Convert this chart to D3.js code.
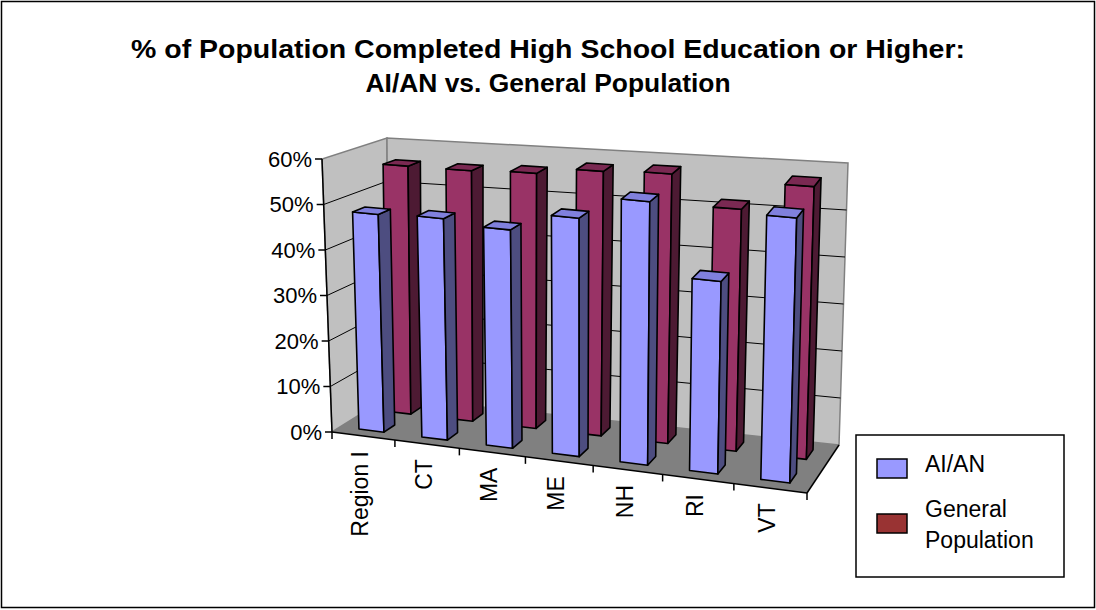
<!DOCTYPE html>
<html>
<head>
<meta charset="utf-8">
<script src="https://cdn.jsdelivr.net/npm/d3@7"></script>
<style>
  body { margin: 0; background: #fff; }
  text { font-family: "Liberation Sans", Arial, sans-serif; }
</style>
</head>
<body>
<svg id="chart" width="1096" height="610"></svg>
<script>
// data
const categories = ["Region I", "CT", "MA", "ME", "NH", "RI", "VT"];
const seriesNames = ["AI/AN", "General Population"];
const aian = [48, 48.5, 47.5, 51.5, 56.5, 41, 56];
const genPop = [56, 56, 56.5, 58, 58.5, 52, 58];
const valueTicks = [0, 10, 20, 30, 40, 50, 60];

const colors = {
  "AI/AN": { front: "#9999ff", side: "#4d4d80", top: "#8080dd", legend: "#9999ff" },
  "General Population": { front: "#993366", side: "#4d1a33", top: "#7a2952", legend: "#993333" }
};

// corners of the 3d box on screen (front/back, bottom/top, left/right)
const box = {
  FBL: [332, 432], FBR: [807, 493], BBL: [388, 397], BBR: [839, 445],
  FTL: [322, 159], FTR: [815, 208], BTL: [387, 138], BTR: [848, 163]
};
const persp = 0.916;
const warp = t => persp * t / (1 + (persp - 1) * t);

const xBand = d3.scaleBand().domain(categories).range([0, 1]).paddingInner(0.6).paddingOuter(0.3);
const zBand = d3.scaleBand().domain(seriesNames).range([0, 1]).paddingInner(0.6).paddingOuter(0.3);
const yScale = d3.scaleLinear().domain([0, 60]).range([0, 1]);

const lerp = (p, q, t) => [p[0] + (q[0] - p[0]) * t, p[1] + (q[1] - p[1]) * t];
function proj(a, b, w) {
  a = warp(a);
  const fb = lerp(box.FBL, box.FBR, a), bb = lerp(box.BBL, box.BBR, a);
  const ft = lerp(box.FTL, box.FTR, a), bt = lerp(box.BTL, box.BTR, a);
  return lerp(lerp(fb, bb, b), lerp(ft, bt, b), w);
}
const poly = pts => "M" + pts.map(p => proj(...p).join(",")).join("L") + "Z";

const svg = d3.select("#chart");
svg.append("rect").attr("width", 1096).attr("height", 610).attr("fill", "#fff");
svg.append("rect").attr("x", 1.5).attr("y", 1.5).attr("width", 1093).attr("height", 606)
  .attr("fill", "none").attr("stroke", "#000").attr("stroke-width", 1.5);

// title
const title = svg.append("text").attr("text-anchor", "middle")
  .attr("font-weight", "bold").attr("font-size", 26);
title.append("tspan").attr("x", 548).attr("y", 58).attr("textLength", 834).attr("lengthAdjust", "spacingAndGlyphs")
  .text("% of Population Completed High School Education or Higher:");
title.append("tspan").attr("x", 548).attr("y", 92).attr("textLength", 365).attr("lengthAdjust", "spacingAndGlyphs")
  .text("AI/AN vs. General Population");

// walls and floor
svg.append("path").attr("d", poly([[0, 0, 0], [0, 1, 0], [0, 1, 1], [0, 0, 1]]))
  .attr("fill", "#c0c0c0").attr("stroke", "#808080").attr("stroke-width", 1.5);
svg.append("path").attr("d", poly([[0, 1, 0], [1, 1, 0], [1, 1, 1], [0, 1, 1]]))
  .attr("fill", "#c0c0c0").attr("stroke", "#808080").attr("stroke-width", 1.5);
svg.append("path").attr("d", poly([[0, 0, 0], [1, 0, 0], [1, 1, 0], [0, 1, 0]]))
  .attr("fill", "#808080");

// gridlines
const grid = valueTicks.filter(v => v > 0 && v < 60);
svg.selectAll(".grid").data(grid).enter().append("path")
  .attr("class", "grid")
  .attr("d", v => { const w = yScale(v); return "M" + [proj(0, 0, w), proj(0, 1, w), proj(1, 1, w)].map(p => p.join(",")).join("L"); })
  .attr("fill", "none").attr("stroke", "#000").attr("stroke-width", 1);

// axes
const line = (p, q) => svg.append("line").attr("x1", p[0]).attr("y1", p[1]).attr("x2", q[0]).attr("y2", q[1])
  .attr("stroke", "#000").attr("stroke-width", 1.5);
line(proj(0, 0, 0), proj(0, 0, 1));
line(proj(0, 0, 0), proj(1, 0, 0));
line(proj(1, 0, 0), proj(1, 1, 0));

valueTicks.forEach(v => {
  const p = proj(0, 0, yScale(v));
  line([p[0] - 7, p[1]], p);
  svg.append("text").attr("x", p[0] - 10).attr("y", p[1]).attr("dy", "0.35em")
    .attr("text-anchor", "end").attr("font-size", 22).text(v + "%");
});

d3.range(categories.length + 1).forEach(i => {
  const p = proj(i / categories.length, 0, 0);
  line(p, [p[0], p[1] + 7]);
});

svg.selectAll(".cat").data(categories).enter().append("text")
  .attr("class", "cat")
  .attr("transform", d => {
    const p = proj(xBand(d) + xBand.bandwidth() / 2, 0, 0);
    return `translate(${p[0] - 3},${p[1] + 15}) rotate(-90)`;
  })
  .attr("dy", "0.35em").attr("text-anchor", "end").attr("font-size", 23).text(d => d);

// bars: back row first
const rows = [{ name: "General Population", values: genPop }, { name: "AI/AN", values: aian }];
rows.forEach(row => {
  const b0 = zBand(row.name), b1 = b0 + zBand.bandwidth();
  const c = colors[row.name];
  const g = svg.append("g");
  const bars = g.selectAll("g").data(categories.map((cat, i) => ({ cat, v: row.values[i] })))
    .enter().append("g");
  const faces = [
    { fill: c.front, pts: (a0, a1, w) => [[a0, b0, 0], [a1, b0, 0], [a1, b0, w], [a0, b0, w]] },
    { fill: c.side, pts: (a0, a1, w) => [[a1, b0, 0], [a1, b1, 0], [a1, b1, w], [a1, b0, w]] },
    { fill: c.top, pts: (a0, a1, w) => [[a0, b0, w], [a1, b0, w], [a1, b1, w], [a0, b1, w]] }
  ];
  faces.forEach(f => {
    bars.append("path")
      .attr("d", d => { const a0 = xBand(d.cat), a1 = a0 + xBand.bandwidth(); return poly(f.pts(a0, a1, yScale(d.v))); })
      .attr("fill", f.fill).attr("stroke", "#000").attr("stroke-width", 1.6).attr("stroke-linejoin", "round");
  });
});

// legend
const lg = svg.append("g");
lg.append("rect").attr("x", 856).attr("y", 435).attr("width", 208).attr("height", 142)
  .attr("fill", "#fff").attr("stroke", "#000").attr("stroke-width", 1.5);
const legendRows = [
  { name: "AI/AN", lines: ["AI/AN"], sy: 459, ty: [472] },
  { name: "General Population", lines: ["General", "Population"], sy: 514, ty: [517, 548] }
];
legendRows.forEach(r => {
  lg.append("rect").attr("x", 877).attr("y", r.sy).attr("width", 30).attr("height", 19)
    .attr("fill", colors[r.name].legend).attr("stroke", "#000").attr("stroke-width", 1.5);
  r.lines.forEach((t, k) => lg.append("text").attr("x", 925).attr("y", r.ty[k])
    .attr("font-family", "Lato, 'Open Sans', sans-serif").attr("font-size", 23).text(t));
});
</script>
</body>
</html>
